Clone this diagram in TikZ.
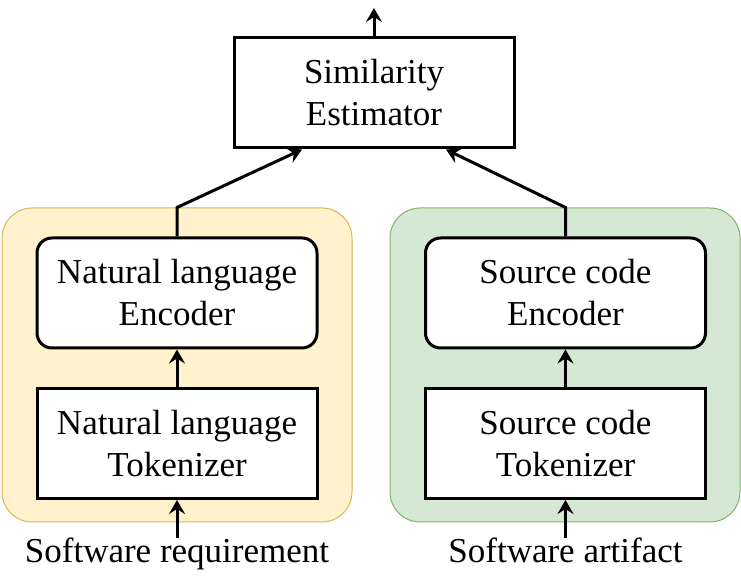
\documentclass[tikz,border=0pt]{standalone}
\usepackage{fontspec}
\setmainfont{Liberation Serif}
\usepackage{xcolor}
\usetikzlibrary{arrows.meta}

\definecolor{nlfill}{HTML}{FFF2CC}
\definecolor{nldraw}{HTML}{D6B656}
\definecolor{scfill}{HTML}{D5E8D4}
\definecolor{scdraw}{HTML}{82B366}

\tikzset{
  panel/.style={rectangle, rounded corners=15pt, line width=0.5pt, minimum width=175pt, minimum height=157pt, inner sep=0pt},
  block/.style={rectangle, draw=black, fill=white, line width=1.5pt, minimum width=140pt, minimum height=55pt, inner sep=0pt, align=center, font=\rmfamily\fontsize{17.5}{21}\selectfont},
  encbox/.style={block, rounded corners=7.5pt},
  inlabel/.style={inner sep=0pt, anchor=base, font=\rmfamily\fontsize{17.5}{21}\selectfont},
  link/.style={line width=1.5pt, -{Stealth[length=7pt, width=8pt, inset=2.5pt]}}
}

\begin{document}
\begin{tikzpicture}[x=0.5pt, y=-0.5pt]
			\useasboundingbox (0,0) rectangle (741,576);
			\node [panel, fill=nlfill, draw=nldraw] (nlpanel) at (177,365) {};
			\node [panel, fill=scfill, draw=scdraw] (scpanel) at (565,365) {};
			\node [block] (sim) at (374,93) {Similarity\\Estimator};
			\node [encbox] (nlenc) at (177,293) {Natural language\\Encoder};
			\node [block] (nltok) at (177,443.5) {Natural language\\Tokenizer};
			\node [encbox] (scenc) at (565.5,293) {Source code\\Encoder};
			\node [block] (sctok) at (565.5,443.5) {Source code\\Tokenizer};
			\node [inlabel] (reqin) at (177,563) {Software requirement};
			\node [inlabel] (artin) at (565.5,563) {Software artifact};
			\coordinate (result) at (374,8);
			\draw [link] (reqin.north) -- (nltok.south);
			\draw [link] (artin.north) -- (sctok.south);
			\draw [link] (nltok.north) -- (nlenc.south);
			\draw [link] (sctok.north) -- (scenc.south);
			\draw [link] (nlenc.north) -- (nlenc.north |- nlpanel.north) -- ([xshift=-36pt]sim.south);
			\draw [link] (scenc.north) -- (scenc.north |- scpanel.north) -- ([xshift=36pt]sim.south);
			\draw [link] (sim.north) -- (result);
		\end{tikzpicture}
\end{document}
